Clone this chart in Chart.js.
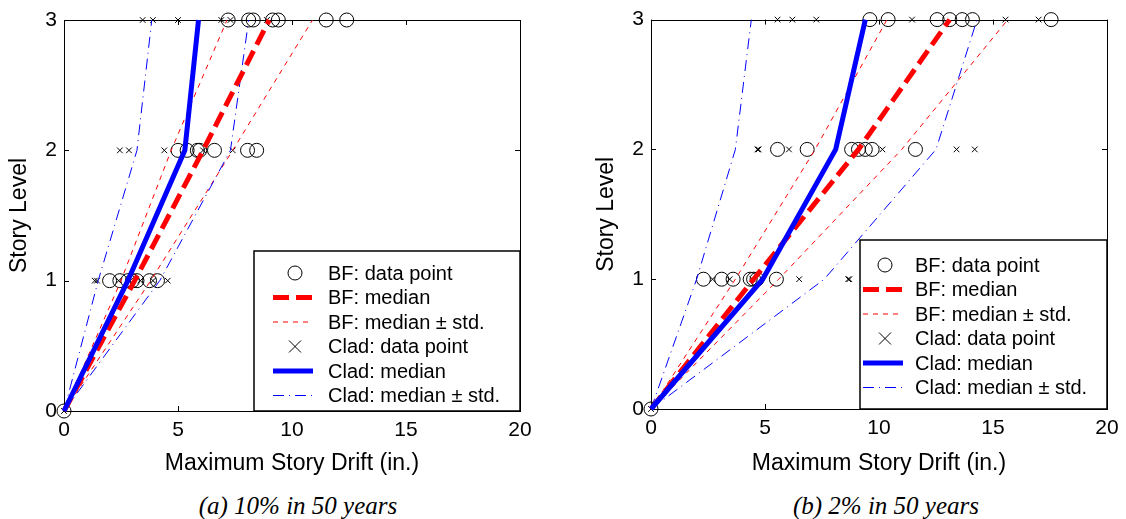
<!DOCTYPE html>
<html lang="en">
<head>
<meta charset="UTF-8">
<title>Maximum Story Drift</title>
<script src="https://cdn.jsdelivr.net/npm/chart.js@4.4.1/dist/chart.umd.min.js"></script>
<style>
  body { margin: 0; background: #fff; width: 1126px; height: 519px; position: relative; overflow: hidden; }
  .panel { position: absolute; top: 0; height: 480px; }
  #panelA { left: 0; width: 560px; }
  #panelB { left: 587px; width: 539px; }
  .caption { position: absolute; top: 492px; width: 300px; line-height: 30px; text-align: center;
             font: italic 25px "Liberation Serif", "Times New Roman", serif; color: #000; }
</style>
</head>
<body>

<div class="panel" id="panelA"><canvas id="chartA"></canvas></div>
<div class="panel" id="panelB"><canvas id="chartB"></canvas></div>
<div class="caption" style="left:148px">(a) 10% in 50 years</div>
<div class="caption" style="left:736px">(b) 2% in 50 years</div>

<script>
// story levels (y) and drift values (x, inches)
const storyLevels = [0, 1, 2, 3];
const xTicks = [0, 5, 10, 15, 20];
const yTicks = [0, 1, 2, 3];

// (a) 10% in 50 years -- data points per story level
const bfPointsA = [
  [0],
  [2.0, 2.45, 2.8, 3.0, 3.2, 3.75, 4.1],
  [5.0, 5.4, 5.85, 5.95, 6.6, 8.05, 8.45],
  [7.2, 8.1, 8.3, 9.15, 9.4, 11.5, 12.4]
];
const cladPointsA = [
  [0],
  [1.35, 1.45, 2.4, 2.9, 3.35, 3.9, 4.55],
  [2.45, 2.85, 4.4, 6.1, 7.4],
  [3.45, 3.9, 5.0, 6.9, 7.3, 8.9]
];
const bfMedianA   = [0, 3.1, 6.1, 9.0];
const bfLowerA    = [0, 2.5, 4.7, 7.15];
const bfUpperA    = [0, 3.8, 7.4, 10.9];
const cladMedianA = [0, 2.8, 5.3, 5.9];
const cladLowerA  = [0, 1.5, 3.2, 3.85];
const cladUpperA  = [0, 4.2, 7.3, 8.1];

// (b) 2% in 50 years
const bfPointsB = [
  [0],
  [2.3, 3.1, 3.6, 4.35, 4.5, 4.65, 5.5],
  [5.55, 6.85, 8.8, 9.1, 9.4, 9.7, 11.6],
  [9.6, 10.4, 12.55, 13.1, 13.65, 14.1, 17.55]
];
const cladPointsB = [
  [0],
  [2.7, 3.45, 4.45, 6.5, 8.65, 8.7],
  [4.67, 4.72, 6.05, 10.15, 13.4, 14.2],
  [5.55, 6.2, 7.25, 11.45, 15.55, 17.0]
];
const bfMedianB   = [0, 4.5, 9.1, 13.1];
const bfLowerB    = [0, 3.7, 7.2, 10.35];
const bfUpperB    = [0, 5.6, 11.0, 15.65];
const cladMedianB = [0, 4.9, 8.1, 9.4];
const cladLowerB  = [0, 2.0, 3.7, 4.4];
const cladUpperB  = [0, 7.6, 12.5, 14.3];

const FONT = '"Liberation Sans", Arial, sans-serif';

function pts(lists) {
  return lists.flatMap((xs, lvl) => xs.map(x => ({ x: x, y: storyLevels[lvl] })));
}
function curve(vals) {
  return vals.map((x, i) => ({ x: x, y: storyLevels[i] }));
}

// box + inward tick marks on all four sides (matlab style)
const frameTicks = {
  id: 'frameTicks',
  beforeDatasetsDraw(chart) {
    const { ctx, chartArea: ca, scales } = chart;
    ctx.save();
    ctx.strokeStyle = '#000';
    ctx.lineWidth = 1;
    ctx.strokeRect(Math.round(ca.left) + 0.5, Math.round(ca.top) + 0.5,
                   Math.round(ca.width), Math.round(ca.height));
    ctx.beginPath();
    scales.x.ticks.forEach(t => {
      const px = Math.round(scales.x.getPixelForValue(t.value)) + 0.5;
      ctx.moveTo(px, ca.bottom); ctx.lineTo(px, ca.bottom - 5);
      ctx.moveTo(px, ca.top); ctx.lineTo(px, ca.top + 5);
    });
    scales.y.ticks.forEach(t => {
      const py = Math.round(scales.y.getPixelForValue(t.value)) + 0.5;
      ctx.moveTo(ca.left, py); ctx.lineTo(ca.left + 5, py);
      ctx.moveTo(ca.right, py); ctx.lineTo(ca.right - 5, py);
    });
    ctx.stroke();
    ctx.restore();
  }
};

// legend drawn in a box at the lower right of the axes
const boxLegend = {
  id: 'boxLegend',
  afterDatasetsDraw(chart, args, opts) {
    const { ctx, chartArea: ca } = chart;
    const x0 = ca.right - opts.width;
    const y0 = ca.bottom - opts.height;
    ctx.save();
    ctx.fillStyle = '#fff';
    ctx.fillRect(x0, y0, opts.width, opts.height);
    ctx.strokeStyle = '#000';
    ctx.lineWidth = 1.5;
    ctx.strokeRect(x0, y0, opts.width, opts.height);

    const items = chart.data.datasets.filter(d => !d.noLegend);
    const sx = ca.right - opts.sampleRight;
    items.forEach((d, i) => {
      const y = y0 + opts.firstRow + i * opts.rowGap;
      ctx.save();
      if (d.showLine) {
        ctx.strokeStyle = d.borderColor;
        ctx.lineWidth = d.borderWidth;
        ctx.setLineDash(d.borderDash || []);
        ctx.beginPath();
        ctx.moveTo(sx - 20, y);
        ctx.lineTo(sx + 20, y);
        ctx.stroke();
      } else {
        ctx.strokeStyle = '#000';
        ctx.lineWidth = 1;
        ctx.beginPath();
        if (d.pointStyle === 'circle') {
          ctx.arc(sx + 2, y, 7, 0, Math.PI * 2);
        } else {
          ctx.moveTo(sx - 4, y - 6); ctx.lineTo(sx + 8, y + 6);
          ctx.moveTo(sx + 8, y - 6); ctx.lineTo(sx - 4, y + 6);
        }
        ctx.stroke();
      }
      ctx.restore();
      ctx.fillStyle = '#000';
      ctx.font = '20px ' + FONT;
      ctx.textBaseline = 'middle';
      ctx.fillText(d.label, ca.right - opts.textRight, y + 1);
    });
    ctx.restore();
  }
};

function makePanel(id, d, lay) {
  const datasets = [
    { label: 'BF: data point', data: pts(d.bfPts), showLine: false, pointStyle: 'circle',
      pointRadius: 7, borderColor: '#000', backgroundColor: 'rgba(0,0,0,0)', borderWidth: 1, order: 6 },
    { label: 'BF: median', data: curve(d.bfMed), showLine: true, borderColor: '#ff0000',
      borderWidth: 5, borderDash: [16, 7], pointRadius: 0, order: 2 },
    { label: 'BF: median \u00b1 std.', data: curve(d.bfLow), showLine: true, borderColor: '#ff0000',
      borderWidth: 1, borderDash: [5, 5], pointRadius: 0, order: 4 },
    { label: 'Clad: data point', data: pts(d.cladPts), showLine: false, pointStyle: 'crossRot',
      pointRadius: 4, borderColor: '#000', backgroundColor: '#000', borderWidth: 1, order: 5 },
    { label: 'Clad: median', data: curve(d.cladMed), showLine: true, borderColor: '#0000ff',
      borderWidth: 5, pointRadius: 0, order: 1 },
    { label: 'Clad: median \u00b1 std.', data: curve(d.cladLow), showLine: true, borderColor: '#0000ff',
      borderWidth: 1, borderDash: [11, 5, 1, 5], pointRadius: 0, order: 3 },
    { label: 'BF upper', noLegend: true, data: curve(d.bfUp), showLine: true, borderColor: '#ff0000',
      borderWidth: 1, borderDash: [5, 5], pointRadius: 0, order: 4 },
    { label: 'Clad upper', noLegend: true, data: curve(d.cladUp), showLine: true, borderColor: '#0000ff',
      borderWidth: 1, borderDash: [11, 5, 1, 5], pointRadius: 0, order: 3 }
  ];
  datasets.forEach(ds => { ds.clip = false; ds.fill = false; ds.tension = 0; });

  new Chart(document.getElementById(id), {
    type: 'scatter',
    data: { datasets: datasets },
    options: {
      responsive: true,
      maintainAspectRatio: false,
      animation: false,
      events: [],
      layout: { padding: { top: lay.top, right: lay.right, left: 0, bottom: 0 } },
      plugins: {
        legend: { display: false },
        tooltip: { enabled: false },
        boxLegend: lay.legend
      },
      scales: {
        x: {
          type: 'linear', min: 0, max: 20,
          afterBuildTicks: s => { s.ticks = xTicks.map(v => ({ value: v })); },
          afterFit: s => { s.height = lay.xHeight; },
          grid: { display: false, drawTicks: false },
          border: { display: false },
          ticks: { color: '#000', padding: 7, font: { family: FONT, size: 21 } },
          title: { display: true, text: 'Maximum Story Drift (in.)', color: '#000',
                   padding: { top: 0, bottom: 3 }, font: { family: FONT, size: 23 } }
        },
        y: {
          type: 'linear', min: 0, max: 3,
          afterBuildTicks: s => { s.ticks = yTicks.map(v => ({ value: v })); },
          afterFit: s => { s.width = 64; },
          grid: { display: false, drawTicks: false },
          border: { display: false },
          ticks: { color: '#000', padding: 7, font: { family: FONT, size: 21 } },
          title: { display: true, text: 'Story Level', color: '#000',
                   padding: { top: 6, bottom: 0 }, font: { family: FONT, size: 23 } }
        }
      }
    },
    plugins: [frameTicks, boxLegend]
  });
}

makePanel('chartA', {
  bfPts: bfPointsA, cladPts: cladPointsA,
  bfMed: bfMedianA, bfLow: bfLowerA, bfUp: bfUpperA,
  cladMed: cladMedianA, cladLow: cladLowerA, cladUp: cladUpperA
}, { top: 20, right: 40, xHeight: 69,
     legend: { width: 266, height: 160, firstRow: 22, rowGap: 24.5, sampleRight: 227, textRight: 192 } });

makePanel('chartB', {
  bfPts: bfPointsB, cladPts: cladPointsB,
  bfMed: bfMedianB, bfLow: bfLowerB, bfUp: bfUpperB,
  cladMed: cladMedianB, cladLow: cladLowerB, cladUp: cladUpperB
}, { top: 19, right: 19, xHeight: 71,
     legend: { width: 247, height: 169, firstRow: 25, rowGap: 24.5, sampleRight: 224, textRight: 192 } });
</script>
</body>
</html>
